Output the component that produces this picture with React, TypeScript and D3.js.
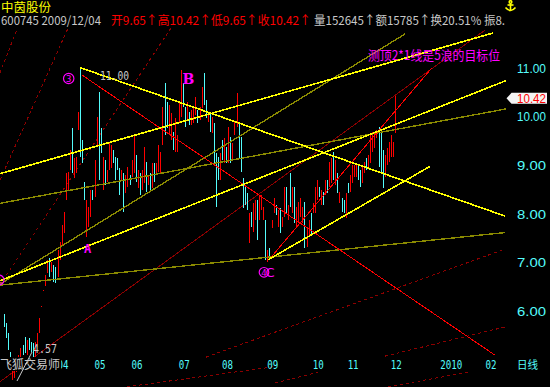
import React from "react";
import * as d3 from "d3";

const W = 550;
const H = 387;

// Daily bars, 2009
const highs = [
  5.94, 5.75, 5.55, 5.16, 4.85, 4.95, 5.02, 5.1, 5.24, 5.3,
  5.47, 5.41, 5.45, 5.37, 5.35, 5.37, 5.55, 5.86, 6.11, 6.42,
  6.74, 7.05, 7.09, 7.0, 6.95, 6.91, 7.26, 7.42, 7.77, 8.03,
  8.83, 8.86, 9.31, 9.76, 9.14, 9.17, 10.09, 11.0,
  9.52, 8.65, 8.28, 8.14, 8.49, 8.49, 9.1, 9.99, 10.5, 9.76,
  9.17, 9.1, 8.9, 9.47, 9.41, 9.31, 9.17, 9.14, 8.94, 8.9,
  8.83, 8.79, 8.96, 8.79, 9.1, 9.62, 9.21, 8.9, 8.83, 8.9,
  9.37, 9.06, 8.79, 8.83, 9.04, 9.04, 9.04, 9.41, 9.27, 10.19,
  10.69, 10.29, 10.23, 10.07, 9.68, 9.97, 9.62, 10.27, 10.95, 10.69,
  10.19, 10.29, 10.09, 10.13, 10.17, 10.4, 10.13, 10.19, 10.6, 10.89,
  10.34, 10.09, 10.09, 9.99, 9.86, 9.25, 9.17, 9.25, 9.52, 9.56,
  9.37, 9.78, 9.58, 9.45, 9.89, 10.48, 9.86, 9.58, 8.73, 8.59,
  8.42, 8.01, 8.03, 8.22, 8.28, 8.28, 8.38, 8.38, 8.14, 7.87,
  7.26, 7.3, 7.87, 8.32, 8.18, 8.08, 8.12, 7.93, 8.55, 8.55,
  8.18, 8.83, 8.55, 8.55, 8.14, 8.24, 8.32, 8.14, 8.24, 7.73,
  7.87, 8.01, 8.22, 8.55, 8.69, 8.55, 8.49, 8.45, 8.69, 8.69,
  9.06, 9.14, 9.27, 9.1, 8.83, 8.45, 8.32, 8.28, 8.42, 8.63,
  8.79, 9.0, 9.0, 9.0, 9.0, 8.9, 8.96, 9.06, 9.14, 9.21,
  9.62, 9.68, 9.68, 9.72, 9.78, 9.66, 9.31, 9.2, 9.35, 9.47,
  9.62, 9.47, 10.42,
];
const lows = [
  5.67, 5.45, 5.2, 5.0, 4.57, 4.62, 4.75, 4.9, 5.06, 5.1,
  5.14, 5.1, 5.2, 5.16, 5.06, 5.06, 5.26, 5.55, 6.11, 6.42,
  6.52, 6.78, 6.7, 6.8, 6.6, 6.58, 6.7, 7.05, 7.36, 7.6,
  8.28, 8.49, 8.9, 8.84, 8.73, 8.84, 9.72, 9.17,
  9.04, 8.28, 7.52, 7.73, 7.93, 8.28, 8.34, 9.41, 8.69, 9.25,
  8.49, 8.59, 8.65, 8.9, 8.94, 9.04, 8.69, 8.9, 8.38, 8.69,
  8.03, 8.42, 8.55, 8.59, 8.75, 8.84, 8.65, 8.53, 8.38, 8.49,
  8.63, 8.45, 8.59, 8.45, 8.53, 8.65, 8.79, 8.86, 8.84, 9.41,
  9.62, 9.76, 9.62, 9.52, 9.31, 9.27, 9.27, 9.86, 9.99, 10.19,
  9.78, 9.93, 9.82, 9.82, 9.86, 10.03, 9.86, 9.93, 10.17, 10.23,
  9.97, 9.89, 9.68, 9.66, 9.04, 8.14, 8.69, 8.69, 9.1, 9.04,
  9.04, 9.04, 9.04, 9.1, 9.62, 9.78, 9.14, 8.86, 8.12, 8.18,
  8.08, 7.4, 7.73, 7.62, 7.87, 7.46, 7.87, 8.08, 7.87, 7.05,
  7.01, 7.09, 7.71, 8.01, 7.97, 7.73, 7.6, 7.73, 7.93, 8.01,
  7.87, 8.14, 8.01, 7.81, 7.73, 7.81, 7.93, 7.81, 7.3, 7.32,
  7.56, 7.56, 8.01, 8.01, 8.28, 8.34, 8.18, 8.18, 8.38, 8.42,
  8.55, 8.63, 8.69, 8.59, 8.42, 8.22, 8.03, 8.01, 7.91, 8.42,
  8.45, 8.63, 8.75, 8.75, 8.69, 8.55, 8.63, 8.84, 8.9, 8.96,
  9.04, 9.27, 9.35, 9.56, 8.96, 8.86, 8.53, 8.75, 9.0, 9.06,
  9.17, 9.17, 9.65,
];
// r = up day (red), c = down day (cyan)
const dayDirs = (
  "ccccrrrrrc" + "crcccrrrrr" + "rrcrccrrrr" + "rrrcrrrc" +
  "ccrrrcrrcc" + "rcrrrccccr" + "crrcrrcrcr" + "rcrcrcrrrr" +
  "ccrrcrrrrc" + "crcrrrcrrc" + "crcrcccrcr" + "crcrrrcccc" +
  "crcrrcrrrc" + "rcrrcrcrrc" + "rcrcrrrrcr" + "rcrrrcrcrc" +
  "rrcrcrccrc" + "rrrrccrrcr" + "rrrrcccrrr" + "rrr"
).split("");

const priceTicks = [11, 10, 9, 8, 7, 6];
const monthLabels = ["04", "05", "06", "07", "08", "09", "10", "11", "12", "2010", "02"];
const monthIndex = [25, 43, 61, 84, 105, 127, 149, 166, 187, 211, 233];
const lastClose = 10.42;

// drawn trend lines: [barIndex1, price1, barIndex2, price2]
const yellowLines = [
  [37, 11.0, 243.4, 7.95],
  [-1.94, 8.82, 237.6, 11.71],
  [-1.94, 6.62, 243.8, 10.73],
  [128.3, 7.05, 207, 8.97],
];
const oliveLines = [
  [-1.94, 6.53, 243.4, 7.61],
  [-1.94, 8.21, 243.8, 10.15],
  [-1.94, 6.55, 194.8, 11.69],
];
const redLines = [
  [37.8, 10.85, 238.6, 5.09],
  [129.3, 7.08, 207.8, 10.99],
];
const darkRedLines = [[-1.94, 4.545, 233.7, 11.77]];
const dottedLines = [
  [-1.94, 10.89, 6.5, 11.81],
  [-1.94, 8.69, 31.1, 11.81],
  [-0.49, 6.63, 81.1, 11.81],
  [98.2, 5.05, 243.4, 7.27],
  [185.1, 5.07, 243.4, 5.67],
  [59.8, 4.44, 130.7, 4.85],
  [131.7, 4.52, 152.6, 4.74],
  [186.6, 4.44, 225.5, 4.74],
];

const CYAN = "#54fcfc";
const RED = "#ff0000";
const GRAY = "#c8c8c8";
const MAG = "#ff00ff";
const mono = "'DejaVu Sans Mono', monospace";
const narrow = "'Liberation Sans', sans-serif";
const cjk = "'Noto Sans CJK SC', sans-serif";

export default function App() {
  const x = d3
    .scaleLinear()
    .domain([0, highs.length - 1])
    .range([4, 4 + (highs.length - 1) * 2.058]);
  const y = d3.scaleLinear().domain([6, 11]).range([310.9, 67.6]);

  const drawLines = (arr: number[][], color: string, w: number, dash?: string, key = "l") =>
    arr.map((l, k) => (
      <line
        key={key + k}
        x1={x(l[0])}
        y1={y(l[1])}
        x2={x(l[2])}
        y2={y(l[3])}
        stroke={color}
        strokeWidth={w}
        strokeDasharray={dash}
        shapeRendering="crispEdges"
      />
    ));

  const tagY = y(lastClose) + 2.5;

  return (
    <svg
      width={W}
      height={H}
      style={{ position: "absolute", left: 0, top: 0, display: "block" }}
    >
      <rect x={0} y={0} width={W} height={H} fill="#000" />

      {drawLines(dottedLines, "#8c0000", 1, "3,3", "d")}
      {drawLines(darkRedLines, "#8c0000", 1, undefined, "dr")}

      {highs.map((h, i) => {
        const top = y(h);
        const bot = y(lows[i]);
        return (
          <rect
            key={"b" + i}
            x={Math.round(x(i))}
            y={top}
            width={1}
            height={Math.max(1, bot - top)}
            fill={dayDirs[i] === "r" ? RED : CYAN}
            shapeRendering="crispEdges"
          />
        );
      })}

      {drawLines(oliveLines, "#8a8a00", 1.4, undefined, "o")}
      {drawLines(redLines, RED, 1, undefined, "r")}
      {drawLines(yellowLines, "#ffff00", 1.6, undefined, "y")}

      {/* header */}
      <text x={1} y={11.5} fill="#ffff00" fontSize={12} fontFamily={cjk} textLength={50} lengthAdjust="spacingAndGlyphs">
        中茵股份
      </text>
      <text x={1} y={24.5} fill={GRAY} fontSize={12} fontFamily={cjk} textLength={100} lengthAdjust="spacingAndGlyphs">
        600745 2009/12/04
      </text>
      <text x={111} y={24.5} fill={RED} fontSize={12} fontFamily={cjk} textLength={200} lengthAdjust="spacingAndGlyphs">
        开9.65↑高10.42↑低9.65↑收10.42↑
      </text>
      <text x={314} y={24.5} fill={GRAY} fontSize={12} fontFamily={cjk} textLength={191} lengthAdjust="spacingAndGlyphs">
        量152645↑额15785↑换20.51% 振8.
      </text>

      {/* anchor icon */}
      <g stroke="#ffff00" strokeWidth={1.6} fill="none">
        <circle cx={510.5} cy={2} r={1.3} />
        <line x1={510.5} y1={3} x2={510.5} y2={11} />
        <line x1={507.5} y1={5} x2={513.5} y2={5} />
        <path d="M505.5,7.5 Q510.5,13.5 515.5,7.5" />
      </g>

      {/* right price axis */}
      {priceTicks.map((v) => (
        <text key={"p" + v} x={517} y={y(v) + 5} fill={CYAN} fontSize={13} fontFamily={narrow} textLength={29} lengthAdjust="spacingAndGlyphs">
          {v.toFixed(2)}
        </text>
      ))}
      <polygon
        points={`506.5,${tagY} 511.5,${tagY - 5.5} 547,${tagY - 5.5} 547,${tagY + 5.5} 511.5,${tagY + 5.5}`}
        fill="#f4f4f4"
      />
      <text x={517} y={tagY + 5} fill={RED} fontSize={13} fontFamily={narrow} textLength={29} lengthAdjust="spacingAndGlyphs">
        {lastClose.toFixed(2)}
      </text>

      {/* bottom month axis */}
      {monthLabels.map((m, k) => (
        <text key={"m" + k} x={x(monthIndex[k]) + 2} y={368.5} fill={CYAN} fontSize={12} fontFamily={mono} textLength={m.length * 5.5} lengthAdjust="spacingAndGlyphs">
          {m}
        </text>
      ))}
      <text x={517} y={369} fill={CYAN} fontSize={11} fontFamily={cjk} textLength={21} lengthAdjust="spacingAndGlyphs">
        日线
      </text>

      {/* watermark */}
      <rect x={0} y={357} width={61} height={14} fill="#000" />
      <text x={0} y={369} fill={GRAY} fontSize={12} fontFamily={cjk} textLength={60} lengthAdjust="spacingAndGlyphs">
        飞狐交易师
      </text>

      {/* price notes */}
      <text x={100} y={79.5} fill={GRAY} fontSize={13} fontFamily={mono} textLength={29} lengthAdjust="spacingAndGlyphs">
        11.00
      </text>
      <line x1={32} y1={352} x2={17} y2={381} stroke={GRAY} strokeWidth={1} />
      <text x={33} y={353} fill={GRAY} fontSize={13} fontFamily={mono} textLength={24} lengthAdjust="spacingAndGlyphs">
        4.57
      </text>

      {/* wave labels */}
      <g fill="none" stroke={MAG} strokeWidth={1.2}>
        <circle cx={68.7} cy={78.5} r={5.2} />
        <circle cx={264} cy={272.3} r={4.8} />
        <circle cx={-1} cy={280} r={5} />
      </g>
      <text x={68.7} y={81.7} fill={MAG} fontSize={9} fontFamily={mono} textAnchor="middle">3</text>
      <text x={264} y={275.5} fill={MAG} fontSize={9} fontFamily={mono} textAnchor="middle">4</text>
      <text x={-1} y={283.2} fill={MAG} fontSize={9} fontFamily={mono} textAnchor="middle">1</text>
      <text x={265.5} y={277.3} fill={MAG} fontSize={13} fontFamily="'DejaVu Sans', sans-serif">C</text>
      <text x={182.5} y={83.5} fill={MAG} fontSize={14} fontWeight="bold" fontFamily="'DejaVu Serif', serif">B</text>
      <text x={84} y={252.8} fill={MAG} fontSize={12} fontWeight="bold" fontFamily={mono}>A</text>

      <text x={368} y={60} fill={MAG} fontSize={13} fontFamily={cjk} textLength={132} lengthAdjust="spacingAndGlyphs">
        测顶2*1线是5浪的目标位
      </text>
    </svg>
  );
}
